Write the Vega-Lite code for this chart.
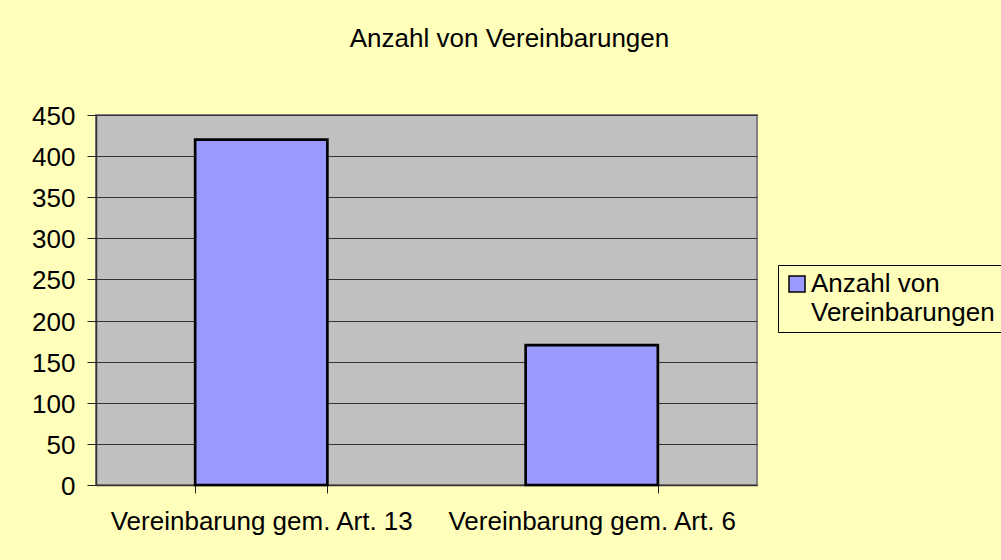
{
  "$schema": "https://vega.github.io/schema/vega-lite/v6.json",
  "autosize": "none",
  "width": 661,
  "height": 370,
  "padding": {"left": 96, "top": 115, "right": 244, "bottom": 75},
  "background": "#FFFFBB",
  "title": {
    "text": "Anzahl von Vereinbarungen",
    "font": "Liberation Sans",
    "fontSize": 26,
    "fontWeight": "normal",
    "color": "#000000",
    "frame": "group",
    "anchor": "middle",
    "dx": 83,
    "offset": 52
  },
  "data": {
    "values": [
      {"kategorie": "Vereinbarung gem. Art. 13", "anzahl": 420, "serie": "Anzahl von Vereinbarungen"},
      {"kategorie": "Vereinbarung gem. Art. 6", "anzahl": 170, "serie": "Anzahl von Vereinbarungen"}
    ]
  },
  "mark": {"type": "bar", "stroke": "#000000", "strokeWidth": 2.7},
  "encoding": {
    "x": {
      "field": "kategorie",
      "type": "nominal",
      "sort": null,
      "scale": {"paddingInner": 0.6, "paddingOuter": 0.3},
      "axis": {
        "title": null,
        "labelAngle": 0,
        "labelFont": "Liberation Sans",
        "labelFontSize": 26,
        "labelColor": "#000000",
        "labelLimit": 600,
        "labelPadding": 15,
        "tickBand": "extent",
        "tickSize": 8,
        "tickColor": "#222222",
        "domainColor": "#333333",
        "domainWidth": 1.5,
        "grid": false
      }
    },
    "y": {
      "field": "anzahl",
      "type": "quantitative",
      "scale": {"domain": [0, 450], "nice": false},
      "axis": {
        "title": null,
        "values": [0, 50, 100, 150, 200, 250, 300, 350, 400, 450],
        "labelFont": "Liberation Sans",
        "labelFontSize": 26,
        "labelColor": "#000000",
        "labelPadding": 12,
        "labelOffset": 1.5,
        "tickSize": 9,
        "tickColor": "#222222",
        "domainColor": "#333333",
        "domainWidth": 1.5,
        "grid": true,
        "gridColor": "#333333",
        "gridWidth": 1.2,
        "gridOpacity": 1
      }
    },
    "color": {
      "field": "serie",
      "type": "nominal",
      "scale": {"range": ["#9999FF"]},
      "legend": {
        "title": null,
        "orient": "none",
        "legendX": 682,
        "legendY": 150,
        "fillColor": "#FFFFBB",
        "strokeColor": "#000000",
        "padding": 6,
        "symbolType": "square",
        "symbolSize": 256,
        "symbolStrokeColor": "#000000",
        "symbolStrokeWidth": 1.5,
        "symbolOpacity": 1,
        "labelFont": "Liberation Sans",
        "labelFontSize": 26,
        "labelColor": "#000000",
        "labelLimit": 400,
        "labelOffset": 1,
        "labelExpr": "['Anzahl von', 'Vereinbarungen\u00a0\u00a0\u00a0\u00a0']",
        "encode": {
          "labels": {"update": {"lineHeight": {"value": 29}}}
        }
      }
    }
  },
  "config": {
    "view": {"fill": "#C0C0C0", "stroke": "#808080", "strokeWidth": 2}
  }
}
